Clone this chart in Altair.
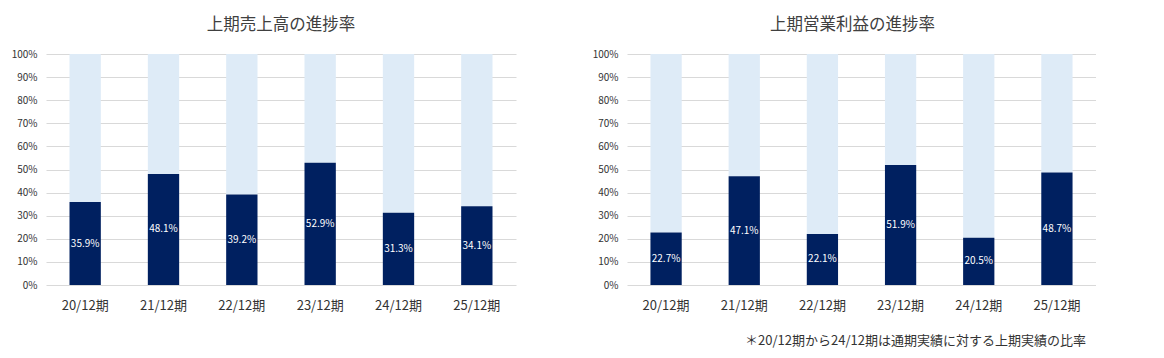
import altair as alt
import pandas as pd

categories = ["20/12期", "21/12期", "22/12期", "23/12期", "24/12期", "25/12期"]
sales_rate = [35.9, 48.1, 39.2, 52.9, 31.3, 34.1]
profit_rate = [22.7, 47.1, 22.1, 51.9, 20.5, 48.7]
titles = ["上期売上高の進捗率", "上期営業利益の進捗率"]
footnote = "＊20/12期から24/12期は通期実績に対する上期実績の比率"
y_ticks = [0, 0.1, 0.2, 0.3, 0.4, 0.5, 0.6, 0.7, 0.8, 0.9, 1.0]

FONT = "Noto Sans CJK JP"
DARK = "#002060"
LIGHT = "#DEEBF7"
TXT = "#333333"


def panel(vals, title, width, height, title_dx=0, note=None):
    df = pd.DataFrame({"cat": categories, "v": [x / 100 for x in vals]})
    df["top"] = 1.0
    df["mid"] = df["v"] / 2
    df["label"] = [f"{x:.1f}%" for x in vals]

    x = alt.X(
        "cat:N", sort=categories, title=None,
        scale=alt.Scale(paddingInner=0.6, paddingOuter=0.3),
        axis=alt.Axis(labelAngle=0, domain=False, ticks=False, grid=False,
                      labelPadding=14, labelFontSize=13, labelColor=TXT,
                      labelFont=FONT),
    )
    yscale = alt.Scale(domain=[0, 1])
    yaxis = alt.Axis(values=y_ticks, format=".0%", domain=False,
                     ticks=False, labelPadding=9, labelFontSize=10,
                     labelColor=TXT, labelFont=FONT, labelOverlap=False,
                     gridColor="#D9D9D9", gridWidth=1)
    base = alt.Chart(df)
    light = base.mark_bar(color=LIGHT).encode(
        x=x,
        y=alt.Y("v:Q", scale=yscale, title=None, axis=yaxis),
        y2="top:Q",
    )
    dark = base.mark_bar(color=DARK).encode(
        x=x, y=alt.Y("v:Q", scale=yscale, title=None, axis=yaxis))
    text = base.mark_text(color="white", fontSize=10, font=FONT).encode(
        x=x, y=alt.Y("mid:Q", scale=yscale, title=None, axis=yaxis), text="label:N"
    )
    layers = [light, dark, text]
    if note is not None:
        nd = pd.DataFrame({"t": [note]})
        layers.append(
            alt.Chart(nd).mark_text(align="right", baseline="middle",
                                    fontSize=13, font=FONT, color=TXT)
            .encode(x=alt.value(width - 10), y=alt.value(height + 56), text="t:N")
        )
    return alt.layer(*layers).properties(
        width=width, height=height,
        title=alt.TitleParams(title, fontSize=16.5, font=FONT, fontWeight="normal",
                              color="#404040", offset=16, anchor="middle",
                              frame="group", dx=title_dx),
    )


left = panel(sales_rate, titles[0], 470, 231)
right = panel(profit_rate, titles[1], 469, 231, title_dx=-9, note=footnote)

chart = alt.hconcat(left, right, spacing=76).properties(
    padding={"top": 8, "left": 3, "right": 0, "bottom": 0}
).configure_view(stroke=None)

chart.save("out.html", embed_options={"renderer": "svg", "actions": False})
